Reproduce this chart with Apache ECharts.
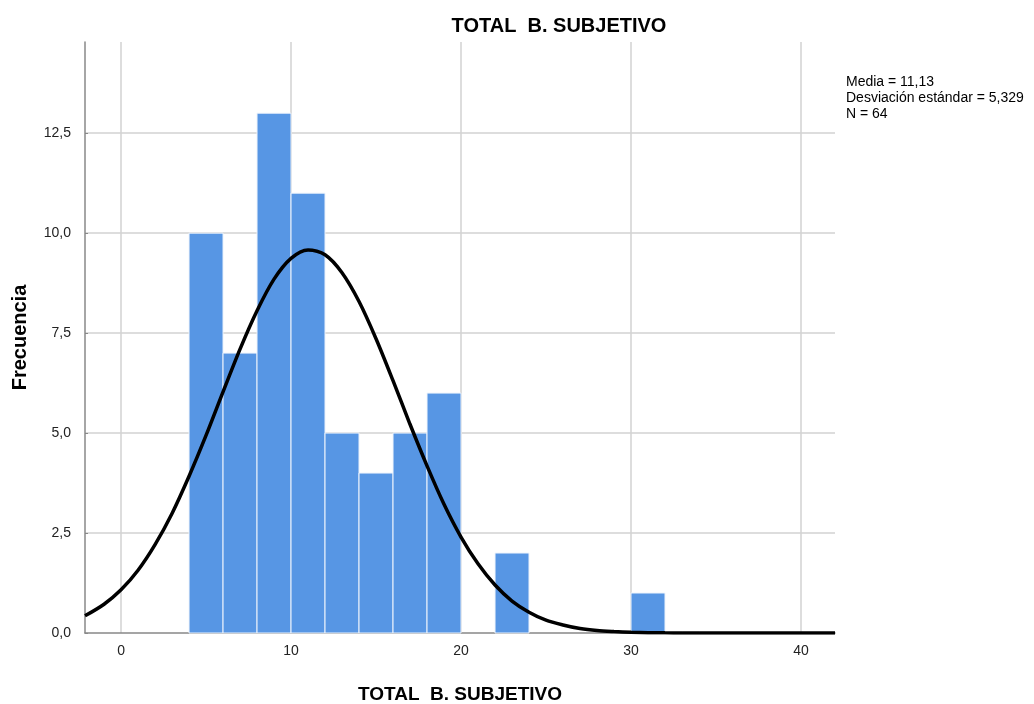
<!DOCTYPE html>
<html><head><meta charset="utf-8">
<script src="https://cdn.jsdelivr.net/npm/echarts@6/dist/echarts.min.js"></script>
<style>html,body{margin:0;padding:0;background:#fff}#c{width:1034px;height:704px}</style>
</head><body><div id="c"></div>
<script>
// Histogram bins: [start, end]
const binStarts = [4, 6, 8, 10, 12, 14, 16, 18, 22, 30];
const binEnds   = [6, 8, 10, 12, 14, 16, 18, 20, 24, 32];
const counts    = [10, 7, 13, 11, 5, 4, 5, 6, 2, 1];
// Normal curve
const curveX = [-2.12,-1,0,1,2,3,4,5,6,7,8,9,10,11,12,13,14,15,16,17,18,19,20,21,22,23,24,25,26,27,28,29,30,31,32,33,34,36,38,40,42];
const curveY = [0.43,0.72,1.08,1.57,2.21,2.99,3.92,4.94,6.03,7.10,8.06,8.85,9.37,9.58,9.46,9.01,8.29,7.36,6.31,5.22,4.18,3.22,2.40,1.73,1.20,0.80,0.52,0.32,0.20,0.11,0.06,0.035,0.018,0.009,0.004,0.002,0.001,0,0,0,0];
const xTicks = [0, 10, 20, 30, 40];
const yTicks = [0, 2.5, 5, 7.5, 10, 12.5];
const titleText = 'TOTAL  B. SUBJETIVO';
const statsLines = ['Media = 11,13', 'Desviación estándar = 5,329', 'N = 64'];

const chart = echarts.init(document.getElementById('c'), null, {renderer: 'canvas'});
const gridColor = '#d2d2d2';
const font = 'Liberation Sans, Arial, sans-serif';

const option = {
  animation: false,
  backgroundColor: '#fff',
  title: {
    text: titleText, left: 554, top: 11, textAlign: 'center',
    textStyle: {fontFamily: font, fontWeight: 'bold', fontSize: 20, color: '#000'}
  },
  grid: {left: 85, right: 199, top: 42, bottom: 71, containLabel: false, outerBoundsMode: 'none'},
  xAxis: {
    type: 'value', min: -2.12, max: 42,
    name: titleText, nameLocation: 'middle', nameGap: 52,
    nameTextStyle: {fontFamily: font, fontWeight: 'bold', fontSize: 19, color: '#000'},
    axisLine: {show: true, onZero: false, lineStyle: {color: '#888', width: 1.5}},
    axisTick: {show: false},
    splitLine: {show: false},
    axisLabel: {customValues: xTicks, fontFamily: font, fontSize: 14, color: '#222', margin: 11,
      formatter: v => String(v)}
  },
  yAxis: {
    type: 'value', min: 0, max: 14.78,
    name: 'Frecuencia', nameLocation: 'middle', nameGap: 55,
    nameTextStyle: {fontFamily: font, fontWeight: 'bold', fontSize: 20, color: '#000'},
    axisLine: {show: true, onZero: false, lineStyle: {color: '#888', width: 1.5}},
    axisTick: {show: true, inside: true, length: 3, customValues: yTicks, lineStyle: {color: '#888'}},
    splitLine: {show: false},
    axisLabel: {customValues: yTicks, fontFamily: font, fontSize: 14, color: '#222', margin: 14,
      formatter: v => v.toFixed(1).replace('.', ',')}
  },
  graphic: statsLines.map((t, i) => ({
    type: 'text', left: 846, top: 75 + i * 16,
    style: {text: t, fontFamily: font, fontSize: 14, fill: '#000'}
  })),
  series: [
    {
      type: 'line', data: [], silent: true, z: 0,
      markLine: {
        silent: true, symbol: 'none', label: {show: false}, z: 0,
        lineStyle: {color: gridColor, type: 'solid', width: 1.5},
        data: yTicks.filter(v => v > 0).map(v => ({yAxis: v})).concat(xTicks.map(v => ({xAxis: v})))
      }
    },
    {
      type: 'custom', z: 3,
      data: binStarts.map((s, i) => [s, binEnds[i], counts[i]]),
      renderItem: function (params, api) {
        const p0 = api.coord([api.value(0), api.value(2)]);
        const p1 = api.coord([api.value(1), 0]);
        return {
          type: 'rect',
          shape: {x: p0[0], y: p0[1], width: p1[0] - p0[0], height: p1[1] - p0[1]},
          style: {fill: '#5796e4', stroke: '#eef4fc', lineWidth: 1}
        };
      },
      encode: {x: [0, 1], y: 2}
    },
    {
      type: 'line', smooth: 0.3, showSymbol: false, symbol: 'none', clip: true,
      data: curveX.map((x, i) => [x, curveY[i]]),
      lineStyle: {color: '#000', width: 3.5}, z: 5
    }
  ]
};
chart.setOption(option);
</script></body></html>
